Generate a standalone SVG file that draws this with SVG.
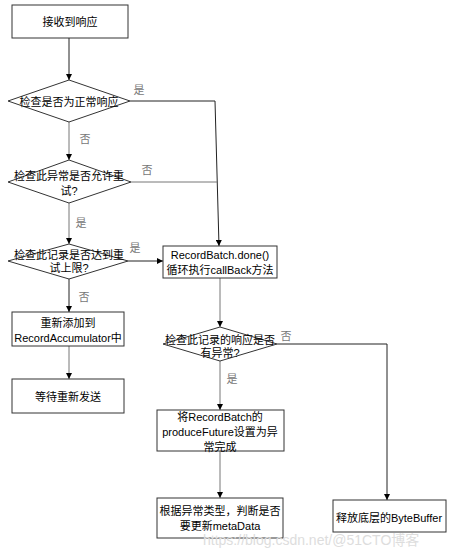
<svg xmlns="http://www.w3.org/2000/svg" width="457" height="551" viewBox="0 0 457 551">
<style>
.box{fill:#fff;stroke:#333;stroke-width:1}
.t{font-family:"Liberation Sans","Noto Sans CJK SC",sans-serif;font-size:11px;fill:#000;text-anchor:middle;dominant-baseline:central}
.lbl{font-family:"Noto Sans CJK SC","Liberation Sans",sans-serif;font-size:11px;fill:#777;text-anchor:middle;dominant-baseline:central}
.ln{fill:none;stroke:#222;stroke-width:1}
.lg{fill:none;stroke:#777;stroke-width:1}
.wm{font-family:"Liberation Sans","Noto Sans CJK SC",sans-serif;font-size:14px;fill:#ddd;}
</style>
<defs>
<marker id="ah" viewBox="0 0 10 10" refX="10" refY="5" markerWidth="6" markerHeight="6" orient="auto" markerUnits="userSpaceOnUse">
<path d="M0,0 L10,5 L0,10 z" fill="#000"/>
</marker>
</defs>
<rect width="457" height="551" fill="#fff"/>
<g id="connectors">
<path class="ln" d="M69,38 V80" marker-end="url(#ah)"/>
<path class="ln" d="M130,101 H215 L219,246" marker-end="url(#ah)"/>
<path class="lg" d="M69,122 V160" marker-end="url(#ah)"/>
<path class="lg" d="M131,182 H217"/>
<path class="lg" d="M69,203 V244" marker-end="url(#ah)"/>
<path class="ln" d="M128,261 H163" marker-end="url(#ah)"/>
<path class="ln" d="M69,279 V312" marker-end="url(#ah)"/>
<path class="lg" d="M69,346 V379" marker-end="url(#ah)"/>
<path class="lg" d="M220,278 V327" marker-end="url(#ah)"/>
<path class="ln" d="M277,344 H387 V500" marker-end="url(#ah)"/>
<path class="lg" d="M220,361 V410" marker-end="url(#ah)"/>
<path class="lg" d="M220,451 V498" marker-end="url(#ah)"/>
<text class="lbl" x="139" y="89">是</text>
<text class="lbl" x="85" y="138">否</text>
<text class="lbl" x="147" y="169">否</text>
<text class="lbl" x="81" y="222">是</text>
<text class="lbl" x="135" y="247">是</text>
<text class="lbl" x="84" y="296">否</text>
<text class="lbl" x="286" y="335">否</text>
<text class="lbl" x="232" y="378">是</text>
</g>
<g id="n1"><rect class="box" x="12" y="5" width="116" height="33"/><text class="t" x="70" y="22">接收到响应</text></g>
<g id="n2"><polygon class="box" points="69,80 130,101 69,122 8,101"/><text class="t" x="69" y="102">检查是否为正常响应</text></g>
<g id="n3"><polygon class="box" points="69,160 131,182 69,203 8,182"/><text class="t" x="69" y="176">检查此异常是否允许重</text><text class="t" x="69" y="191">试?</text></g>
<g id="n4"><polygon class="box" points="69,244 128,261 69,279 8,261"/><text class="t" x="69" y="255">检查此记录是否达到重</text><text class="t" x="69" y="268">试上限?</text></g>
<g id="n5"><rect class="box" x="163" y="246" width="114" height="32"/><text class="t" x="220" y="255">RecordBatch.done()</text><text class="t" x="220" y="270">循环执行callBack方法</text></g>
<g id="n6"><rect class="box" x="12" y="312" width="112" height="34"/><text class="t" x="68" y="323">重新添加到</text><text class="t" x="68" y="338">RecordAccumulator中</text></g>
<g id="n7"><rect class="box" x="12" y="379" width="112" height="34"/><text class="t" x="68" y="397">等待重新发送</text></g>
<g id="n8"><polygon class="box" points="220,327 277,344 220,361 163,344"/><text class="t" x="220" y="340">检查此记录的响应是否</text><text class="t" x="220" y="353">有异常?</text></g>
<g id="n9"><rect class="box" x="157" y="410" width="127" height="41"/><text class="t" x="220" y="417">将RecordBatch的</text><text class="t" x="220" y="432">produceFuture设置为异</text><text class="t" x="220" y="447">常完成</text></g>
<g id="n10"><rect class="box" x="157" y="498" width="126" height="40"/><text class="t" x="220" y="511">根据异常类型，判断是否</text><text class="t" x="220" y="526">要更新metaData</text></g>
<g id="n11"><rect class="box" x="333" y="500" width="113" height="32"/><text class="t" x="389" y="518">释放底层的ByteBuffer</text></g>
<text class="wm" x="203" y="545">https://blog.csdn.net/@51CTO博客</text>
</svg>
